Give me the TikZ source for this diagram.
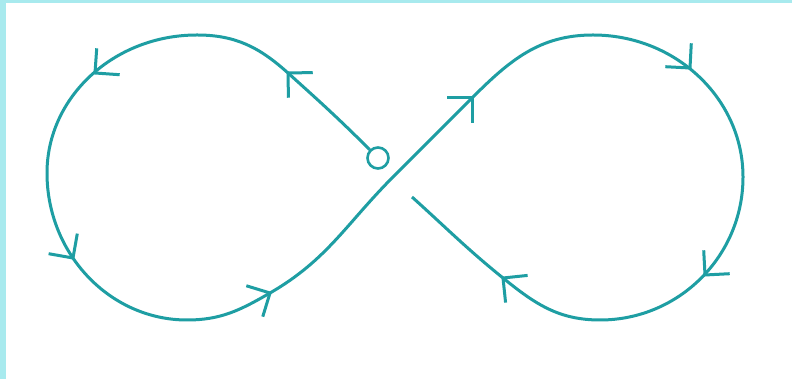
\documentclass[tikz,border=0pt]{standalone}
\definecolor{tealline}{RGB}{30,158,163}
\definecolor{cyanbg}{RGB}{168,234,238}
\tikzset{
  curveline/.style={draw=tealline, line width=3pt},
  chev/.pic={\draw[tealline, line width=3pt] (-17.5pt,17.5pt) -- (0pt,0pt) -- (-17.5pt,-17.5pt);},
  startring/.style={circle, draw=tealline, line width=2.6pt, minimum size=21pt, inner sep=0pt}
}
\begin{document}
\begin{tikzpicture}[x=1pt,y=1pt]
\useasboundingbox (0,0) rectangle (792,379);
\fill[white] (0,0) rectangle (792,379);
\fill[cyanbg] (0,0) rectangle (6,379);
\fill[cyanbg] (0,375.5) rectangle (792,379);
% key points
\node[startring] (start) at (378,221) {};
\coordinate (A2) at (288,306);
\coordinate (LT) at (197,344);
\coordinate (A1) at (95,306);
\coordinate (LL) at (47,206);
\coordinate (A3) at (73,121);
\coordinate (LB) at (187,59);
\coordinate (A4) at (270,86);
\coordinate (C) at (393,202);
\coordinate (A5) at (472,281);
\coordinate (RT) at (593,344);
\coordinate (A6) at (690,311);
\coordinate (RR) at (743,202);
\coordinate (A7) at (705,104);
\coordinate (RB) at (600,59);
\coordinate (A8) at (503,101);
\coordinate (E) at (412,182);
\draw[curveline]
  (start.135) to[out=135,in=318] (A2)
  to[out=138,in=0] (LT)
  .. controls (114,344) and (47,282) .. (LL)
  .. controls (47,125) and (110,59) .. (LB)
  to[out=0,in=210] (A4)
  to[out=30,in=225] (C)
  to[out=45,in=225] (A5)
  to[out=45,in=180] (RT)
  .. controls (676,344) and (743,280) .. (RR)
  .. controls (743,123) and (679,59) .. (RB)
  to[out=180,in=321] (A8)
  to[out=141,in=318] (E);
\path (A1) pic[rotate=221] {chev};
\path (A2) pic[rotate=136] {chev};
\path (A3) pic[rotate=305] {chev};
\path (A4) pic[rotate=28] {chev};
\path (A5) pic[rotate=45] {chev};
\path (A6) pic[rotate=312] {chev};
\path (A7) pic[rotate=228] {chev};
\path (A8) pic[rotate=141] {chev};
\end{tikzpicture}
\end{document}
